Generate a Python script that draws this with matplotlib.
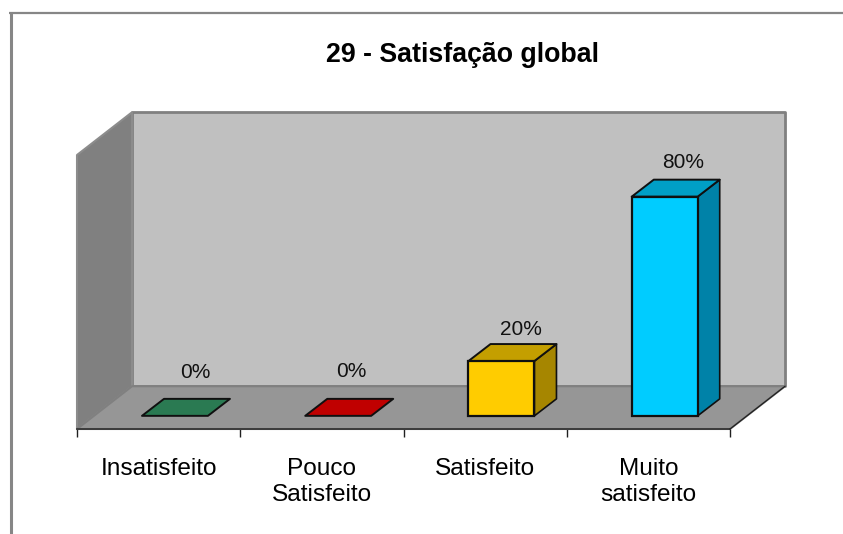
from matplotlib import pyplot as plt
from matplotlib.lines import Line2D
from matplotlib.patches import Polygon

categories = ["Insatisfeito", "Pouco\nSatisfeito", "Satisfeito", "Muito\nsatisfeito"]
values = [0, 0, 20, 80]
value_labels = ["0%", "0%", "20%", "80%"]
front_colors = ["#2a7a52", "#c00000", "#ffcc00", "#00ccff"]
top_colors = ["#2a7a52", "#c00000", "#c49f00", "#009fc6"]
side_colors = ["#1f5c3e", "#900000", "#a68600", "#0082a8"]

# depth of the fake 3d box, in data units
DEPTH_X = 0.337
DEPTH_Y = 15.6
# bars stand part way into the floor
BAR_SHIFT_X = 0.1
BAR_SHIFT_Y = 4.8
BAR_W = 0.404
BAR_DX = 0.135
BAR_DY = 6.2
# label nudges from the bar top
LABEL_DX = [0.122, 0.08, 0.122, 0.11]
LABEL_DY = [15.9, 16.2, 11.4, 12.6]

W, H = 843, 534
plt.rcParams['font.family'] = ['Liberation Sans', 'DejaVu Sans']

fig = plt.figure(figsize=(W / 100, H / 100), dpi=100, facecolor="white")
ax = fig.add_axes([77 / W, (H - 429) / H, 653 / W, 274 / H])
ax.set_xlim(0, 4)
ax.set_ylim(0, 100)
ax.patch.set_visible(False)
for s in ax.spines.values():
    s.set_visible(False)
ax.spines["bottom"].set_visible(True)
ax.spines["bottom"].set_color("#303030")
ax.spines["bottom"].set_linewidth(1.2)


def poly(points, color, edge, lw=1.0, z=1):
    ax.add_patch(Polygon(points, closed=True, facecolor=color, edgecolor=edge,
                         linewidth=lw, zorder=z, clip_on=False, joinstyle="round"))


# back wall, side wall, floor
poly([(DEPTH_X, DEPTH_Y), (4 + DEPTH_X, DEPTH_Y), (4 + DEPTH_X, 100 + DEPTH_Y), (DEPTH_X, 100 + DEPTH_Y)],
     "#c0c0c0", "#808080", 2.0, 1)
poly([(0, 0), (DEPTH_X, DEPTH_Y), (DEPTH_X, 100 + DEPTH_Y), (0, 100)], "#808080", "#8c8c8c", 1.5, 2)
poly([(0, 0), (4, 0), (4 + DEPTH_X, DEPTH_Y), (DEPTH_X, DEPTH_Y)], "#969696", "#808080", 1.5, 2)
ax.plot([4, 4 + DEPTH_X], [0, DEPTH_Y], color="#202020", lw=0.9, zorder=3, clip_on=False)

for i, v in enumerate(values):
    left = i + 0.5 + BAR_SHIFT_X - BAR_W / 2
    right = left + BAR_W
    bottom = BAR_SHIFT_Y
    top = bottom + v
    # side then top then front
    if v > 0:
        poly([(right, bottom), (right + BAR_DX, bottom + BAR_DY), (right + BAR_DX, top + BAR_DY), (right, top)],
             side_colors[i], "#101010", 1.2, 4)
    poly([(left, top), (right, top), (right + BAR_DX, top + BAR_DY), (left + BAR_DX, top + BAR_DY)],
         top_colors[i], "#101010", 1.4, 5)
    if v > 0:
        ax.bar(left + BAR_W / 2, v, BAR_W, bottom=bottom, color=front_colors[i], edgecolor="#101010",
               linewidth=1.6, zorder=6, clip_on=False)
    ax.text(left + BAR_W / 2 + LABEL_DX[i], top + LABEL_DY[i], value_labels[i], ha="center", va="center",
            fontsize=15, color="#111111", zorder=7)

# major ticks on the box edges, labels sit on hidden minor ticks
ax.set_yticks([])
ax.set_xticks(range(5))
ax.set_xticklabels([])
ax.set_xticks([i + 0.5 for i in range(4)], minor=True)
ax.set_xticklabels(categories, minor=True, fontsize=17.6, color="black", linespacing=1.24)
ax.tick_params(axis="x", which="major", length=6, width=1, color="#202020")
ax.tick_params(axis="x", which="minor", length=0, pad=21)

fig.text(463 / W, (H - 55) / H, "29 - Satisfação global", ha="center", va="center",
         fontsize=19.3, fontweight="bold", color="black")

# outer frame, open on right and bottom
fig.add_artist(Line2D([10.5 / W, 10.5 / W], [0, (H - 12) / H], color="#868686", lw=2.2, solid_capstyle="butt"))
fig.add_artist(Line2D([9 / W, 1], [(H - 13) / H, (H - 13) / H], color="#868686", lw=1.6, solid_capstyle="butt"))

fig.savefig("out.png", dpi=100)
